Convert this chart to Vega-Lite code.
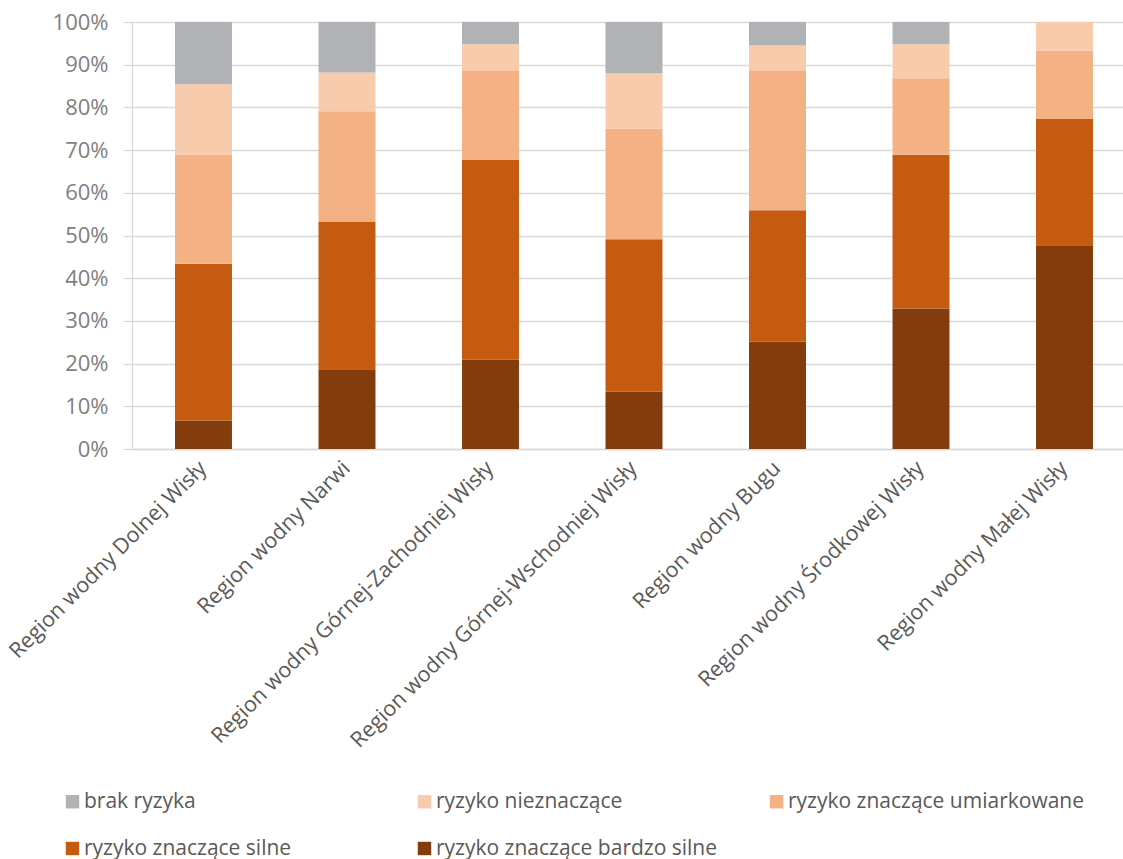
{
  "$schema": "https://vega.github.io/schema/vega-lite/v6.json",
  "width": 991,
  "height": 427,
  "autosize": {"type": "none"},
  "padding": {"left": 132, "top": 22, "right": 0, "bottom": 410},
  "background": "white",
  "data": {
    "values": [
      {"region": "Region wodny Dolnej Wisły", "kat": "ryzyko znaczące bardzo silne", "poziom": 1, "wartosc": 6.7},
      {"region": "Region wodny Dolnej Wisły", "kat": "ryzyko znaczące silne", "poziom": 2, "wartosc": 36.7},
      {"region": "Region wodny Dolnej Wisły", "kat": "ryzyko znaczące umiarkowane", "poziom": 3, "wartosc": 25.5},
      {"region": "Region wodny Dolnej Wisły", "kat": "ryzyko nieznaczące", "poziom": 4, "wartosc": 16.5},
      {"region": "Region wodny Dolnej Wisły", "kat": "brak ryzyka", "poziom": 5, "wartosc": 14.6},

      {"region": "Region wodny Narwi", "kat": "ryzyko znaczące bardzo silne", "poziom": 1, "wartosc": 18.7},
      {"region": "Region wodny Narwi", "kat": "ryzyko znaczące silne", "poziom": 2, "wartosc": 34.6},
      {"region": "Region wodny Narwi", "kat": "ryzyko znaczące umiarkowane", "poziom": 3, "wartosc": 25.8},
      {"region": "Region wodny Narwi", "kat": "ryzyko nieznaczące", "poziom": 4, "wartosc": 9.1},
      {"region": "Region wodny Narwi", "kat": "brak ryzyka", "poziom": 5, "wartosc": 11.8},

      {"region": "Region wodny Górnej-Zachodniej Wisły", "kat": "ryzyko znaczące bardzo silne", "poziom": 1, "wartosc": 20.9},
      {"region": "Region wodny Górnej-Zachodniej Wisły", "kat": "ryzyko znaczące silne", "poziom": 2, "wartosc": 46.8},
      {"region": "Region wodny Górnej-Zachodniej Wisły", "kat": "ryzyko znaczące umiarkowane", "poziom": 3, "wartosc": 21.0},
      {"region": "Region wodny Górnej-Zachodniej Wisły", "kat": "ryzyko nieznaczące", "poziom": 4, "wartosc": 6.1},
      {"region": "Region wodny Górnej-Zachodniej Wisły", "kat": "brak ryzyka", "poziom": 5, "wartosc": 5.2},

      {"region": "Region wodny Górnej-Wschodniej Wisły", "kat": "ryzyko znaczące bardzo silne", "poziom": 1, "wartosc": 13.4},
      {"region": "Region wodny Górnej-Wschodniej Wisły", "kat": "ryzyko znaczące silne", "poziom": 2, "wartosc": 35.7},
      {"region": "Region wodny Górnej-Wschodniej Wisły", "kat": "ryzyko znaczące umiarkowane", "poziom": 3, "wartosc": 25.9},
      {"region": "Region wodny Górnej-Wschodniej Wisły", "kat": "ryzyko nieznaczące", "poziom": 4, "wartosc": 13.0},
      {"region": "Region wodny Górnej-Wschodniej Wisły", "kat": "brak ryzyka", "poziom": 5, "wartosc": 12.0},

      {"region": "Region wodny Bugu", "kat": "ryzyko znaczące bardzo silne", "poziom": 1, "wartosc": 25.2},
      {"region": "Region wodny Bugu", "kat": "ryzyko znaczące silne", "poziom": 2, "wartosc": 30.7},
      {"region": "Region wodny Bugu", "kat": "ryzyko znaczące umiarkowane", "poziom": 3, "wartosc": 32.8},
      {"region": "Region wodny Bugu", "kat": "ryzyko nieznaczące", "poziom": 4, "wartosc": 5.8},
      {"region": "Region wodny Bugu", "kat": "brak ryzyka", "poziom": 5, "wartosc": 5.5},

      {"region": "Region wodny Środkowej Wisły", "kat": "ryzyko znaczące bardzo silne", "poziom": 1, "wartosc": 32.9},
      {"region": "Region wodny Środkowej Wisły", "kat": "ryzyko znaczące silne", "poziom": 2, "wartosc": 36.0},
      {"region": "Region wodny Środkowej Wisły", "kat": "ryzyko znaczące umiarkowane", "poziom": 3, "wartosc": 17.9},
      {"region": "Region wodny Środkowej Wisły", "kat": "ryzyko nieznaczące", "poziom": 4, "wartosc": 8.0},
      {"region": "Region wodny Środkowej Wisły", "kat": "brak ryzyka", "poziom": 5, "wartosc": 5.2},

      {"region": "Region wodny Małej Wisły", "kat": "ryzyko znaczące bardzo silne", "poziom": 1, "wartosc": 47.7},
      {"region": "Region wodny Małej Wisły", "kat": "ryzyko znaczące silne", "poziom": 2, "wartosc": 29.6},
      {"region": "Region wodny Małej Wisły", "kat": "ryzyko znaczące umiarkowane", "poziom": 3, "wartosc": 16.0},
      {"region": "Region wodny Małej Wisły", "kat": "ryzyko nieznaczące", "poziom": 4, "wartosc": 6.7},
      {"region": "Region wodny Małej Wisły", "kat": "brak ryzyka", "poziom": 5, "wartosc": 0}
    ]
  },
  "mark": {"type": "bar"},
  "encoding": {
    "x": {
      "field": "region",
      "type": "nominal",
      "sort": null,
      "scale": {"paddingInner": 0.603, "paddingOuter": 0.2544, "align": 0.589},
      "axis": {
        "title": null,
        "labelAngle": -45,
        "labelAlign": "right",
        "labelBaseline": "middle",
        "labelPadding": 16,
        "labelFont": "Open Sans",
        "labelFontSize": 21.5,
        "labelColor": "#595959",
        "labelLimit": 500,
        "ticks": false,
        "domainColor": "#d9d9d9",
        "domainWidth": 1.3
      }
    },
    "y": {
      "field": "wartosc",
      "type": "quantitative",
      "stack": "normalize",
      "scale": {"domain": [0, 1], "nice": false},
      "axis": {
        "title": null,
        "values": [0, 0.1, 0.2, 0.3, 0.4, 0.5, 0.6, 0.7, 0.8, 0.9, 1],
        "format": ".0%",
        "labelFont": "Open Sans",
        "labelFontSize": 22,
        "labelColor": "#7f7f7f",
        "labelPadding": 15,
        "tickSize": 9,
        "tickColor": "#d9d9d9",
        "tickWidth": 1.3,
        "domainColor": "#d9d9d9",
        "domainWidth": 1.3,
        "grid": true,
        "gridColor": "#d9d9d9",
        "gridWidth": 1.3
      }
    },
    "color": {
      "field": "kat",
      "type": "nominal",
      "scale": {
        "domain": ["brak ryzyka", "ryzyko nieznaczące", "ryzyko znaczące umiarkowane", "ryzyko znaczące silne", "ryzyko znaczące bardzo silne"],
        "range": ["#b1b2b5", "#f8cbad", "#f4b183", "#c55a11", "#843c0c"]
      },
      "legend": {
        "title": null,
        "orient": "none",
        "legendX": -70,
        "legendY": 769,
        "direction": "horizontal",
        "columns": 3,
        "gridAlign": "all",
        "columnPadding": 33,
        "rowPadding": 25,
        "padding": 0,
        "symbolType": "square",
        "symbolSize": 180,
        "symbolStrokeWidth": 0,
        "labelFont": "Open Sans",
        "labelFontSize": 21,
        "labelColor": "#595959",
        "labelOffset": 1,
        "labelLimit": 400
      }
    },
    "order": {"field": "poziom", "type": "quantitative", "sort": "ascending"}
  },
  "config": {
    "view": {"stroke": null}
  }
}
